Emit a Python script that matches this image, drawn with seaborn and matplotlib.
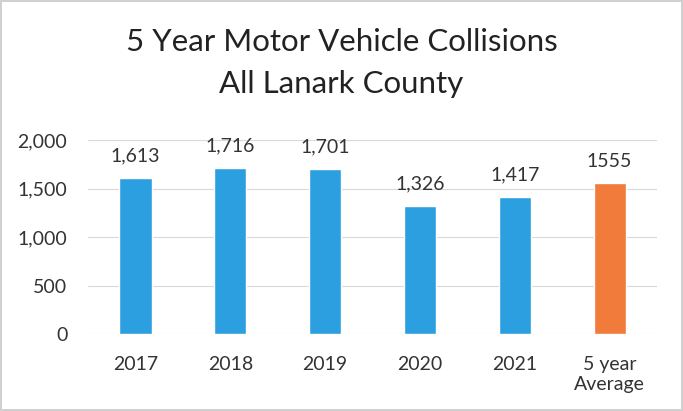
import pandas as pd
import seaborn as sns
import matplotlib.pyplot as plt

# data
categories = ['2017', '2018', '2019', '2020', '2021', '5 year\nAverage']
collisions = [1613, 1716, 1701, 1326, 1417, 1555]
value_labels = ['1,613', '1,716', '1,701', '1,326', '1,417', '1555']
bar_colors = ['#2c9fe0'] * 5 + ['#f07b3a']

df = pd.DataFrame({'category': categories, 'collisions': collisions})

sns.set_theme(style='white')
plt.rcParams['font.family'] = ['Lato', 'DejaVu Sans']

fig = plt.figure(figsize=(6.83, 4.11), dpi=100)
fig.patch.set_edgecolor('#d0d0d0')
fig.patch.set_linewidth(1.5)
ax = fig.add_axes([0.129, 0.187, 0.833, 0.472])

sns.barplot(data=df, x='category', y='collisions', hue='category',
            palette=bar_colors, legend=False, width=0.34, saturation=1, ax=ax)

for i, (v, lab) in enumerate(zip(collisions, value_labels)):
    ax.text(i, v + 140, lab, ha='center', va='bottom', fontsize=14, color='#333333')

ax.set_ylim(0, 2000)
ax.set_yticks([0, 500, 1000, 1500, 2000])
ax.set_yticklabels(['0', '500', '1,000', '1,500', '2,000'])
ax.yaxis.grid(True, color='#d9d9d9', linewidth=0.8)
ax.set_axisbelow(True)
for s in ax.spines.values():
    s.set_visible(False)
ax.tick_params(axis='both', labelsize=14, colors='#333333', length=0)
ax.tick_params(axis='x', pad=16)
ax.tick_params(axis='y', pad=15)
ax.set_xlabel('')
ax.set_ylabel('')

fig.text(0.5, 0.846, '5 Year Motor Vehicle Collisions\nAll Lanark County',
         ha='center', va='center', fontsize=22.5, color='#222222', linespacing=1.6)

fig.savefig('out.png', dpi=100)
